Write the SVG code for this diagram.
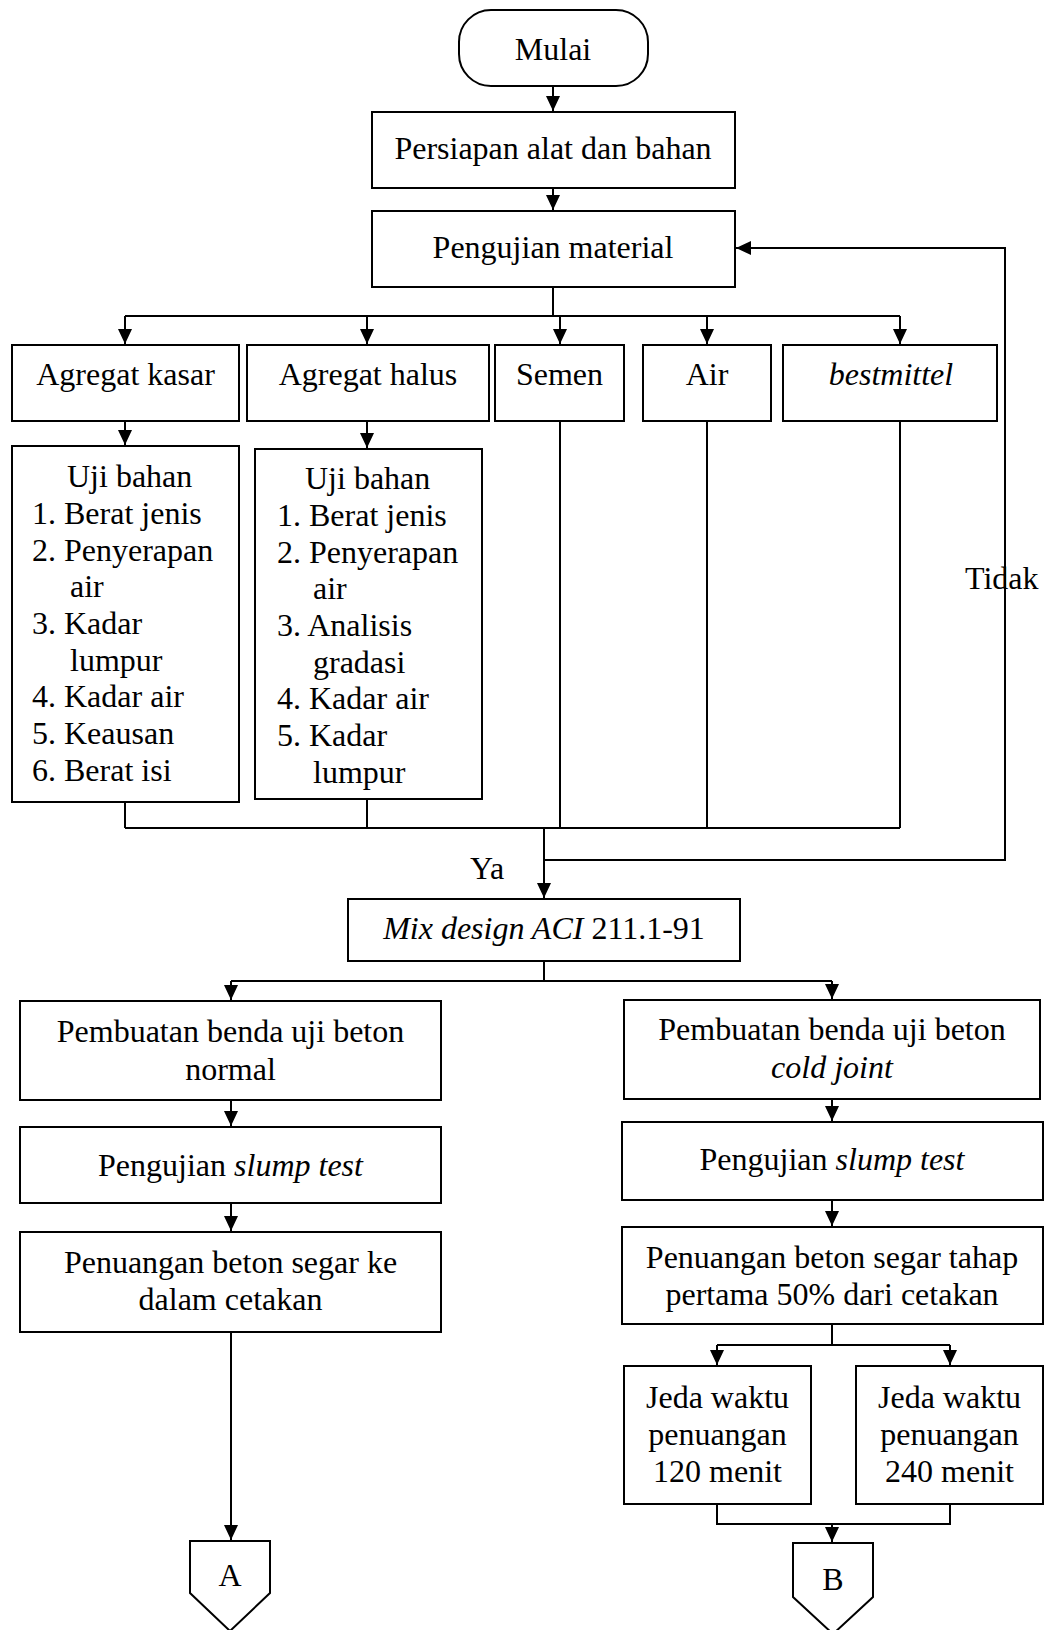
<svg xmlns="http://www.w3.org/2000/svg" width="1046" height="1630" viewBox="0 0 1046 1630">
<style>
.box{fill:#fff;stroke:#000;stroke-width:2}
.ln{fill:none;stroke:#000;stroke-width:2}
.t{font-family:"Liberation Serif","Times New Roman",serif;font-size:32px;fill:#000}
.c{text-anchor:middle}
.i{font-style:italic}
</style>
<defs>
<marker id="ah" markerUnits="userSpaceOnUse" viewBox="0 0 15 14" markerWidth="15" markerHeight="14" refX="15" refY="7" orient="auto">
<path d="M0,0 L15,7 L0,14 z" fill="#000"/>
</marker>
</defs>
<rect width="1046" height="1630" fill="#fff"/>

<g id="connectors">
<path class="ln" d="M553,86 V111" marker-end="url(#ah)"/>
<path class="ln" d="M553,188 V210" marker-end="url(#ah)"/>
<path class="ln" d="M553,287 V316 M125,316 H900"/>
<path class="ln" d="M125,316 V344" marker-end="url(#ah)"/>
<path class="ln" d="M367,316 V344" marker-end="url(#ah)"/>
<path class="ln" d="M560,316 V344" marker-end="url(#ah)"/>
<path class="ln" d="M707,316 V344" marker-end="url(#ah)"/>
<path class="ln" d="M900,316 V344" marker-end="url(#ah)"/>
<path class="ln" d="M125,421 V445" marker-end="url(#ah)"/>
<path class="ln" d="M367,421 V448" marker-end="url(#ah)"/>
<path class="ln" d="M125,802 V828 M367,799 V828 M560,421 V828 M707,421 V828 M900,421 V828 M125,828 H900"/>
<path class="ln" d="M544,828 V898" marker-end="url(#ah)"/>
<path class="ln" d="M544,860 H1005 V550"/>
<path class="ln" d="M1005,608 V248 H736" marker-end="url(#ah)"/>
<path class="ln" d="M544,961 V981 M231,981 H832"/>
<path class="ln" d="M231,981 V1000" marker-end="url(#ah)"/>
<path class="ln" d="M832,981 V999" marker-end="url(#ah)"/>
<path class="ln" d="M231,1100 V1126" marker-end="url(#ah)"/>
<path class="ln" d="M231,1203 V1231" marker-end="url(#ah)"/>
<path class="ln" d="M231,1332 V1540" marker-end="url(#ah)"/>
<path class="ln" d="M832,1099 V1121" marker-end="url(#ah)"/>
<path class="ln" d="M832,1200 V1226" marker-end="url(#ah)"/>
<path class="ln" d="M832,1324 V1345 M717,1345 H950"/>
<path class="ln" d="M717,1345 V1365" marker-end="url(#ah)"/>
<path class="ln" d="M950,1345 V1365" marker-end="url(#ah)"/>
<path class="ln" d="M717,1504 V1524 H950 V1504"/>
<path class="ln" d="M832,1524 V1542" marker-end="url(#ah)"/>
<text class="t" x="965" y="589">Tidak</text>
<text class="t" x="470" y="879">Ya</text>
</g>

<g id="mulai">
<rect class="box" x="459" y="10" width="189" height="76" rx="32" ry="32"/>
<text class="t c" x="553" y="60">Mulai</text>
</g>
<g id="persiapan">
<rect class="box" x="372" y="112" width="363" height="76"/>
<text class="t c" x="553" y="159">Persiapan alat dan bahan</text>
</g>
<g id="pengujian-material">
<rect class="box" x="372" y="211" width="363" height="76"/>
<text class="t c" x="553" y="258">Pengujian material</text>
</g>
<g id="agregat-kasar">
<rect class="box" x="12" y="345" width="227" height="76"/>
<text class="t c" x="125.5" y="385">Agregat kasar</text>
</g>
<g id="agregat-halus">
<rect class="box" x="247" y="345" width="242" height="76"/>
<text class="t c" x="368" y="385">Agregat halus</text>
</g>
<g id="semen">
<rect class="box" x="495" y="345" width="129" height="76"/>
<text class="t c" x="559.5" y="385">Semen</text>
</g>
<g id="air">
<rect class="box" x="643" y="345" width="128" height="76"/>
<text class="t c" x="707" y="385">Air</text>
</g>
<g id="bestmittel">
<rect class="box" x="783" y="345" width="214" height="76"/>
<text class="t c i" x="891" y="385">bestmittel</text>
</g>
<g id="uji-kasar">
<rect class="box" x="12" y="446" width="227" height="356"/>
<text class="t" x="67" y="487">Uji bahan</text>
<text class="t" x="32" y="524">1. Berat jenis</text>
<text class="t" x="32" y="561">2. Penyerapan</text>
<text class="t" x="70" y="597">air</text>
<text class="t" x="32" y="634">3. Kadar</text>
<text class="t" x="70" y="671">lumpur</text>
<text class="t" x="32" y="707">4. Kadar air</text>
<text class="t" x="32" y="744">5. Keausan</text>
<text class="t" x="32" y="781">6. Berat isi</text>
</g>
<g id="uji-halus">
<rect class="box" x="255" y="449" width="227" height="350"/>
<text class="t" x="305" y="489">Uji bahan</text>
<text class="t" x="277" y="526">1. Berat jenis</text>
<text class="t" x="277" y="563">2. Penyerapan</text>
<text class="t" x="313" y="599">air</text>
<text class="t" x="277" y="636">3. Analisis</text>
<text class="t" x="313" y="673">gradasi</text>
<text class="t" x="277" y="709">4. Kadar air</text>
<text class="t" x="277" y="746">5. Kadar</text>
<text class="t" x="313" y="783">lumpur</text>
</g>
<g id="mix-design">
<rect class="box" x="348" y="899" width="392" height="62"/>
<text class="t c" x="544" y="939"><tspan class="i">Mix design ACI</tspan> 211.1-91</text>
</g>
<g id="pembuatan-normal">
<rect class="box" x="20" y="1001" width="421" height="99"/>
<text class="t c" x="230.5" y="1042">Pembuatan benda uji beton</text>
<text class="t c" x="230.5" y="1080">normal</text>
</g>
<g id="slump-normal">
<rect class="box" x="20" y="1127" width="421" height="76"/>
<text class="t c" x="230.5" y="1176">Pengujian <tspan class="i">slump test</tspan></text>
</g>
<g id="penuangan-normal">
<rect class="box" x="20" y="1232" width="421" height="100"/>
<text class="t c" x="230.5" y="1273">Penuangan beton segar ke</text>
<text class="t c" x="230.5" y="1310">dalam cetakan</text>
</g>
<g id="pembuatan-coldjoint">
<rect class="box" x="624" y="1000" width="416" height="99"/>
<text class="t c" x="832" y="1040">Pembuatan benda uji beton</text>
<text class="t c i" x="832" y="1078">cold joint</text>
</g>
<g id="slump-coldjoint">
<rect class="box" x="622" y="1122" width="421" height="78"/>
<text class="t c" x="832" y="1170">Pengujian <tspan class="i">slump test</tspan></text>
</g>
<g id="penuangan-coldjoint">
<rect class="box" x="622" y="1227" width="421" height="97"/>
<text class="t c" x="832" y="1268">Penuangan beton segar tahap</text>
<text class="t c" x="832" y="1305">pertama 50% dari cetakan</text>
</g>
<g id="jeda-120">
<rect class="box" x="624" y="1366" width="187" height="138"/>
<text class="t c" x="717.5" y="1408">Jeda waktu</text>
<text class="t c" x="717.5" y="1445">penuangan</text>
<text class="t c" x="717.5" y="1482">120 menit</text>
</g>
<g id="jeda-240">
<rect class="box" x="856" y="1366" width="187" height="138"/>
<text class="t c" x="949.5" y="1408">Jeda waktu</text>
<text class="t c" x="949.5" y="1445">penuangan</text>
<text class="t c" x="949.5" y="1482">240 menit</text>
</g>
<g id="connector-a">
<path class="box" d="M190,1541 H270 V1593 L230,1631 L190,1593 Z"/>
<text class="t c" x="230" y="1586">A</text>
</g>
<g id="connector-b">
<path class="box" d="M793,1543 H873 V1597 L833,1634 L793,1597 Z"/>
<text class="t c" x="833" y="1590">B</text>
</g>
</svg>
